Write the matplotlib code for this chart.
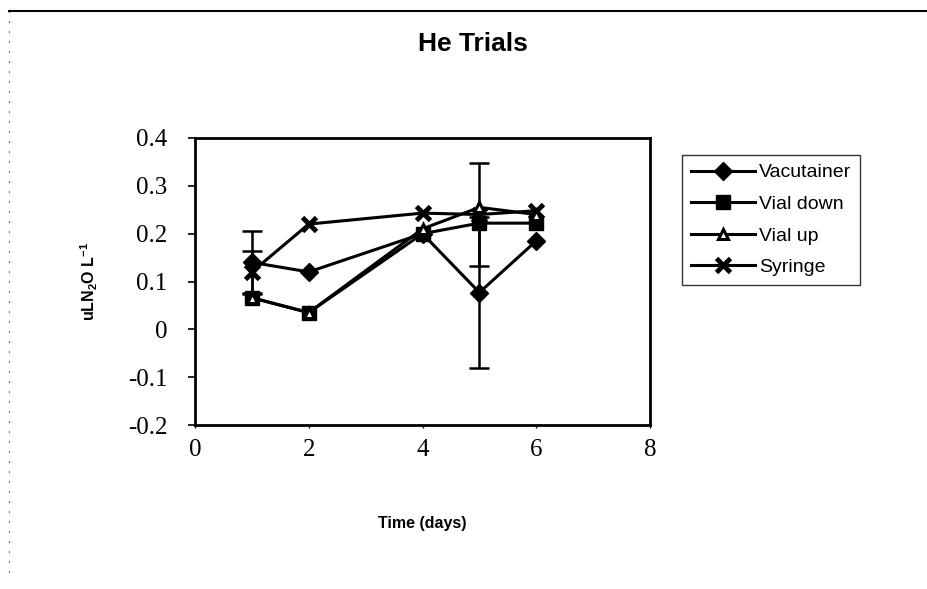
import matplotlib
matplotlib.use("Agg")
import matplotlib.pyplot as plt
from matplotlib.lines import Line2D

# N2O recovered per storage method over time
days = [1, 2, 4, 5, 6]

vacutainer = [0.140, 0.120, 0.200, 0.077, 0.185]
vacutainer_err = [0.066, 0.0, 0.0, 0.157, 0.0]

vial_down = [0.066, 0.035, 0.200, 0.222, 0.222]
vial_up = [0.066, 0.035, 0.210, 0.255, 0.240]

syringe = [0.120, 0.220, 0.243, 0.240, 0.248]
syringe_err = [0.043, 0.0, 0.0, 0.108, 0.0]

x_ticks = [0, 2, 4, 6, 8]
y_ticks = [-0.2, -0.1, 0, 0.1, 0.2, 0.3, 0.4]

plt.rcParams["mathtext.fontset"] = "custom"
plt.rcParams["mathtext.bf"] = "Liberation Sans:bold"
plt.rcParams["mathtext.rm"] = "Liberation Sans:bold"
plt.rcParams["mathtext.default"] = "bf"

W, H = 927, 589
fig = plt.figure(figsize=(W / 100, H / 100), dpi=100)
ax = fig.add_axes([195 / W, 1 - 425 / H, (650 - 195) / W, (425 - 138) / H])

lw = 2.2


def draw_errors(y, err):
    # only bars with a nonzero spread, so no stray caps under the markers
    xs = [d for d, e in zip(days, err) if e > 0]
    ys = [v for v, e in zip(y, err) if e > 0]
    es = [e for e in err if e > 0]
    ax.errorbar(xs, ys, yerr=es, fmt="none", ecolor="black",
                capsize=7, elinewidth=1.8, capthick=1.8, zorder=2)


styles = {
    "Vacutainer": dict(marker="D", ms=9, mfc="black", mec="black"),
    "Vial down": dict(marker="s", ms=10, mfc="black", mec="black"),
    "Vial up": dict(marker="^", ms=7, mfc="white", mec="black", mew=2.2),
    "Syringe": dict(marker="x", ms=10, mew=3.5, mec="black"),
}

draw_errors(vacutainer, vacutainer_err)
draw_errors(syringe, syringe_err)
ax.plot(days, vacutainer, color="black", lw=lw, zorder=3, **styles["Vacutainer"])
ax.plot(days, vial_down, color="black", lw=lw, zorder=4, **styles["Vial down"])
ax.plot(days, vial_up, color="black", lw=lw, zorder=5, **styles["Vial up"])
ax.plot(days, syringe, color="black", lw=lw, zorder=3, **styles["Syringe"])

ax.set_xlim(0, 8)
ax.set_ylim(-0.2, 0.4)
ax.set_xticks(x_ticks)
ax.set_yticks(y_ticks)
ax.set_xticklabels([str(t) for t in x_ticks])
ax.set_yticklabels(["-0.2", "-0.1", "0", "0.1", "0.2", "0.3", "0.4"])

for sp in ax.spines.values():
    sp.set_linewidth(2.0)
ax.tick_params(axis="y", direction="out", length=5, width=1.2, pad=15)
ax.tick_params(axis="x", direction="out", length=2, width=1.0, pad=8)
for lab in ax.get_xticklabels() + ax.get_yticklabels():
    lab.set_fontfamily("Liberation Serif")
    lab.set_fontsize(18)

ax.set_xlabel("Time (days)", fontfamily="Liberation Sans", fontweight="bold",
              fontsize=11.5, labelpad=40)
ax.set_ylabel(r"uLN$_2$O L$^{-1}$", fontfamily="Liberation Sans",
              fontweight="bold", fontsize=11.5, labelpad=20)

fig.text(473 / W, 1 - 44 / H, "He Trials", ha="center", va="center",
         fontfamily="Liberation Sans", fontweight="bold", fontsize=19)

handles = [Line2D([], [], color="black", lw=lw, **styles[name])
           for name in styles]
leg = fig.legend(handles=handles, labels=list(styles),
                 loc="upper left", bbox_to_anchor=(682 / W, 1 - 155 / H),
                 frameon=True, fancybox=False, edgecolor="black",
                 prop={"family": "Liberation Sans", "size": 14},
                 handlelength=3.3, handletextpad=0.2, labelspacing=0.72,
                 borderpad=0.45, borderaxespad=0.0)
leg.get_frame().set_linewidth(1.0)

# page frame: solid top rule and dotted left edge
fig.add_artist(Line2D([9 / W, 1.0], [1 - 11 / H, 1 - 11 / H],
                      transform=fig.transFigure, color="black", lw=1.5))
fig.add_artist(Line2D([9 / W, 9 / W], [1 - 11 / H, 1 - 580 / H],
                      transform=fig.transFigure, color="black", lw=0.8,
                      linestyle=(0, (1, 8))))

fig.savefig("out.png", dpi=100)
